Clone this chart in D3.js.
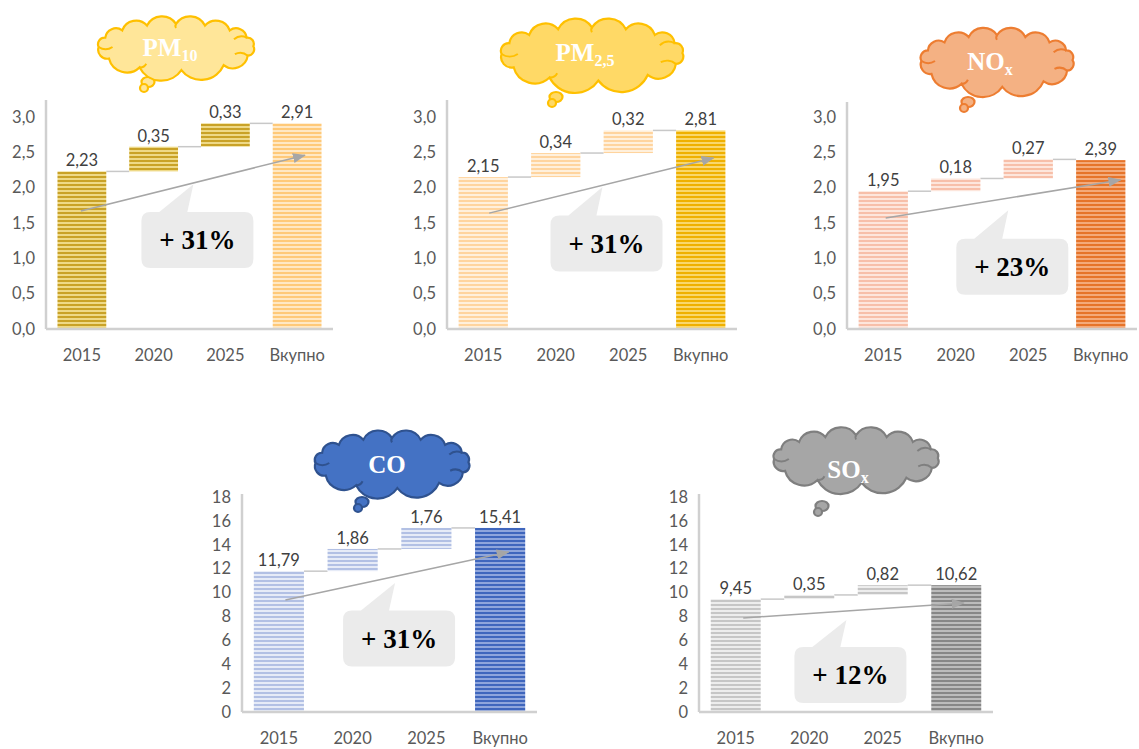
<!DOCTYPE html>
<html>
<head>
<meta charset="utf-8">
<script src="https://cdn.jsdelivr.net/npm/d3@7"></script>
<style>
  body { margin: 0; background: #fff; }
  svg { display: block; }
</style>
</head>
<body>
<div id="chart"></div>
<script>
// --- data ---
var cloudMain = ["PM", "PM", "NO", "CO", "SO"];
var cloudSub = ["10", "2,5", "x", "", "x"];
var categories = ["2015", "2020", "2025", "Вкупно"];
var start2015 = [2.23, 2.15, 1.95, 11.79, 9.45];
var add2020 = [0.35, 0.34, 0.18, 1.86, 0.35];
var add2025 = [0.33, 0.32, 0.27, 1.76, 0.82];
var totals = [2.91, 2.81, 2.39, 15.41, 10.62];
var growth = ["+ 31%", "+ 31%", "+ 23%", "+ 31%", "+ 12%"];
var yMaxes = [3, 3, 3, 18, 18];
var yTickStep = [0.5, 0.5, 0.5, 2, 2];
var yDecimals = [1, 1, 1, 0, 0];
// annotation arrow and callout levels (in axis units)
var arrowFrom = [1.67, 1.64, 1.57, 9.38, 7.87];
var arrowTo = [2.46, 2.42, 2.11, 13.4, 9.13];
var calloutLevel = [1.26, 1.21, 0.88, 6.15, 3.10];
var calloutTip = [2.05, 2.01, 1.68, 10.8, 7.70];

// --- colours ---
var leadColors = [["#c9a227", "#eed987"], ["#ffd49e", "#fff0dc"], ["#f7bfa9", "#fde6dc"], ["#b2c0e4", "#e6ebf7"], ["#c6c6c6", "#ededed"]];
var totalColors = [["#ffc978", "#ffe8c4"], ["#efb000", "#f9d76c"], ["#e6742a", "#f4aa7a"], ["#3f66bd", "#8ea5dc"], ["#878787", "#bcbcbc"]];
var cloudFill = ["#ffe699", "#ffd966", "#f4b183", "#4472c4", "#a6a6a6"];
var cloudStroke = ["#ffc000", "#ffc000", "#ed7d31", "#2f528f", "#7f7f7f"];

// --- layout of the five panels ---
var layout = [
  {x0: 46, x1: 333, base: 329, top: 117, axisTop: 100, cloud: [176, 47, 172, 66], tail: [148, 82], label: [170, 56], arrowX: [0.48, 0.66], calloutX: 2.11},
  {x0: 447, x1: 737, base: 329, top: 117, axisTop: 100, cloud: [592, 54, 201, 76], tail: [556, 97], label: [585, 61], arrowX: [0.62, 0.76], calloutX: 2.2},
  {x0: 847, x1: 1137, base: 329, top: 117, axisTop: 102, cloud: [997, 61, 168, 74], tail: [968, 102], label: [990, 70], arrowX: [0.55, 0.9], calloutX: 2.28},
  {x0: 242, x1: 537, base: 712, top: 497, axisTop: 494, cloud: [392, 463, 170, 72], tail: [362, 502], label: [387, 473], arrowX: [0.63, 0.67], calloutX: 2.13},
  {x0: 699, x1: 993, base: 712, top: 497, axisTop: 494, cloud: [856, 459, 182, 68], tail: [822, 506], label: [848, 478], arrowX: [0.65, 0.65], calloutX: 2.06}
];

var sans = "Lato, 'Open Sans', sans-serif";
var serif = "'Liberation Serif', 'DejaVu Serif', serif";

var svg = d3.select("#chart").append("svg")
    .attr("width", 1139)
    .attr("height", 749);

var defs = svg.append("defs");

defs.append("marker")
    .attr("id", "arrowhead")
    .attr("markerUnits", "userSpaceOnUse")
    .attr("markerWidth", 13)
    .attr("markerHeight", 10)
    .attr("refX", 12)
    .attr("refY", 5)
    .attr("orient", "auto")
  .append("path")
    .attr("d", "M0,0 L13,5 L0,10 Z")
    .attr("fill", "#a6a6a6");

// striped fill used by every bar
function stripes(id, dark, light) {
  var p = defs.append("pattern")
      .attr("id", id)
      .attr("patternUnits", "userSpaceOnUse")
      .attr("width", 4)
      .attr("height", 4);
  p.append("rect").attr("width", 4).attr("height", 4).attr("fill", light);
  p.append("rect").attr("width", 4).attr("height", 2).attr("fill", dark);
}

// points round the cloud where two bumps meet
var cloudAngles = [180, 204, 226, 248, 270, 292, 314, 336, 358, 22, 52, 86, 118, 150];

function cloudPoints(cx, cy, w, h) {
  var rx = w / 2 * 0.9, ry = h / 2 * 0.7;
  return cloudAngles.map(function(a) {
    var t = a * Math.PI / 180;
    return [cx + rx * Math.cos(t), cy + ry * Math.sin(t)];
  });
}

// scalloped cloud outline
function cloudPath(cx, cy, w, h) {
  var pts = cloudPoints(cx, cy, w, h);
  var d = "M" + pts[0][0] + "," + pts[0][1];
  for (var i = 0; i < pts.length; i++) {
    var a = pts[i], b = pts[(i + 1) % pts.length];
    var chord = Math.hypot(b[0] - a[0], b[1] - a[1]);
    var r = chord * 0.58;
    d += " A" + r + "," + r + " 0 0 1 " + b[0] + "," + b[1];
  }
  return d + " Z";
}

// the little inner creases of the office cloud shape
function cloudCreases(cx, cy, w, h) {
  var pts = cloudPoints(cx, cy, w, h);
  var d = "";
  [0, 4, 7, 9, 12].forEach(function(k) {
    var p = pts[k];
    var ix = cx + (p[0] - cx) * 0.82, iy = cy + (p[1] - cy) * 0.82;
    var r = Math.hypot(ix - p[0], iy - p[1]) * 0.9;
    d += "M" + p[0] + "," + p[1] + " A" + r + "," + r + " 0 0 0 " + ix + "," + iy + " ";
  });
  return d;
}

function fmt(dec) {
  return function(v) { return d3.format("." + dec + "f")(v).replace(".", ","); };
}

layout.forEach(function(L, i) {
  stripes("lead" + i, leadColors[i][0], leadColors[i][1]);
  stripes("total" + i, totalColors[i][0], totalColors[i][1]);

  var g = svg.append("g");

  var x = d3.scaleBand()
      .domain(categories)
      .range([L.x0, L.x1])
      .paddingInner(0.32)
      .paddingOuter(0.16);

  var y = d3.scaleLinear()
      .domain([0, yMaxes[i]])
      .range([L.base, L.top]);

  // waterfall pieces
  var c1 = start2015[i], c2 = c1 + add2020[i], c3 = c2 + add2025[i];
  var bars = [
    {cat: "2015", lo: 0, hi: c1, label: start2015[i], fill: "lead"},
    {cat: "2020", lo: c1, hi: c2, label: add2020[i], fill: "lead"},
    {cat: "2025", lo: c2, hi: c3, label: add2025[i], fill: "lead"},
    {cat: "Вкупно", lo: 0, hi: totals[i], label: totals[i], fill: "total"}
  ];

  // y ticks (labels only)
  var ticks = d3.range(0, yMaxes[i] + yTickStep[i] / 2, yTickStep[i]);
  var yAxis = g.append("g")
      .attr("transform", "translate(" + L.x0 + ",0)")
      .call(d3.axisLeft(y).tickValues(ticks).tickSize(0).tickPadding(11).tickFormat(fmt(yDecimals[i])));
  yAxis.select(".domain").remove();
  yAxis.selectAll("text")
      .attr("fill", "#595959")
      .style("font-family", sans)
      .style("font-size", "16.5px");

  var xAxis = g.append("g")
      .attr("transform", "translate(0," + L.base + ")")
      .call(d3.axisBottom(x).tickSize(0).tickPadding(20));
  xAxis.select(".domain").remove();
  xAxis.selectAll("text")
      .attr("fill", "#595959")
      .style("font-family", sans)
      .style("font-size", "16.5px");

  // connectors
  g.selectAll(".conn")
      .data(bars.slice(0, 3))
      .enter().append("line")
        .attr("x1", function(d) { return x(d.cat) + x.bandwidth(); })
        .attr("x2", function(d, k) { return x(categories[k + 1]); })
        .attr("y1", function(d) { return y(d.hi); })
        .attr("y2", function(d) { return y(d.hi); })
        .attr("stroke", "#c8c8c8")
        .attr("stroke-width", 1.5);

  g.selectAll(".bar")
      .data(bars)
      .enter().append("rect")
        .attr("x", function(d) { return x(d.cat); })
        .attr("y", function(d) { return y(d.hi); })
        .attr("width", x.bandwidth())
        .attr("height", function(d) { return y(d.lo) - y(d.hi); })
        .attr("fill", function(d) { return "url(#" + d.fill + i + ")"; });

  g.selectAll(".val")
      .data(bars)
      .enter().append("text")
        .attr("x", function(d) { return x(d.cat) + x.bandwidth() / 2; })
        .attr("y", function(d) { return y(d.hi) - 5; })
        .attr("text-anchor", "middle")
        .attr("fill", "#404040")
        .style("font-family", sans)
        .style("font-size", "16.5px")
        .text(function(d) { return fmt(2)(d.label); });

  // axis lines
  g.append("line")
      .attr("x1", L.x0).attr("x2", L.x0)
      .attr("y1", L.axisTop).attr("y2", L.base)
      .attr("stroke", "#d0d0d0").attr("stroke-width", 2.5);
  g.append("line")
      .attr("x1", L.x0).attr("x2", L.x1)
      .attr("y1", L.base).attr("y2", L.base)
      .attr("stroke", "#d0d0d0").attr("stroke-width", 2.5);

  // growth arrow
  g.append("line")
      .attr("x1", x("2015") + x.bandwidth() * L.arrowX[0])
      .attr("y1", y(arrowFrom[i]))
      .attr("x2", x("Вкупно") + x.bandwidth() * L.arrowX[1])
      .attr("y2", y(arrowTo[i]))
      .attr("stroke", "#a6a6a6")
      .attr("stroke-width", 1.5)
      .attr("marker-end", "url(#arrowhead)");

  // callout box
  var bw = 112, bh = 56, r = 9;
  var cx = L.x0 + x.step() * L.calloutX, cy = y(calloutLevel[i]);
  var bx = cx - bw / 2, by = cy - bh / 2;
  var tipX = cx - 4, tipY = y(calloutTip[i]);
  var t0 = bx + bw * 0.16, t1 = bx + bw * 0.41;
  var p = d3.path();
  p.moveTo(bx + r, by);
  p.lineTo(t0, by);
  p.lineTo(tipX, tipY);
  p.lineTo(t1, by);
  p.lineTo(bx + bw - r, by);
  p.quadraticCurveTo(bx + bw, by, bx + bw, by + r);
  p.lineTo(bx + bw, by + bh - r);
  p.quadraticCurveTo(bx + bw, by + bh, bx + bw - r, by + bh);
  p.lineTo(bx + r, by + bh);
  p.quadraticCurveTo(bx, by + bh, bx, by + bh - r);
  p.lineTo(bx, by + r);
  p.quadraticCurveTo(bx, by, bx + r, by);
  p.closePath();
  g.append("path")
      .attr("d", p.toString())
      .attr("fill", "#ebebeb");
  g.append("text")
      .attr("x", cx)
      .attr("y", cy)
      .attr("dy", "0.35em")
      .attr("text-anchor", "middle")
      .attr("fill", "#000")
      .style("font-family", serif)
      .style("font-weight", "bold")
      .style("font-size", "27px")
      .text(growth[i]);

  // thought cloud
  var cl = L.cloud;
  g.append("ellipse")
      .attr("cx", L.tail[0]).attr("cy", L.tail[1])
      .attr("rx", 6.5).attr("ry", 5)
      .attr("fill", cloudFill[i]).attr("stroke", cloudStroke[i]).attr("stroke-width", 2.2);
  g.append("circle")
      .attr("cx", L.tail[0] - 4).attr("cy", L.tail[1] + 6)
      .attr("r", 4)
      .attr("fill", cloudFill[i]).attr("stroke", cloudStroke[i]).attr("stroke-width", 2.2);
  g.append("path")
      .attr("d", cloudPath(cl[0], cl[1], cl[2], cl[3]))
      .attr("fill", cloudFill[i])
      .attr("stroke", cloudStroke[i])
      .attr("stroke-width", 2.2);
  g.append("path")
      .attr("d", cloudCreases(cl[0], cl[1], cl[2], cl[3]))
      .attr("fill", "none")
      .attr("stroke", cloudStroke[i])
      .attr("stroke-width", 2);

  var lbl = g.append("text")
      .attr("x", L.label[0])
      .attr("y", L.label[1])
      .attr("text-anchor", "middle")
      .attr("fill", "#fff")
      .style("font-family", serif)
      .style("font-weight", "bold")
      .style("font-size", "25px");
  lbl.append("tspan").text(cloudMain[i]);
  if (cloudSub[i]) {
    lbl.append("tspan")
        .attr("dy", 5)
        .style("font-size", "16px")
        .text(cloudSub[i]);
  }
});
</script>
</body>
</html>
